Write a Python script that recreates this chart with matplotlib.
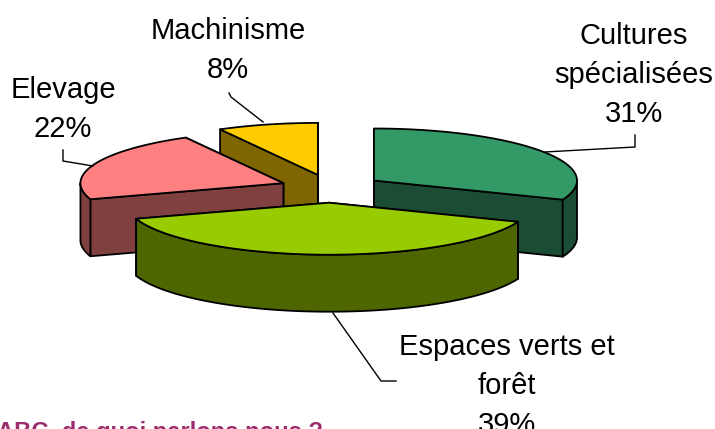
import numpy as np
import matplotlib
matplotlib.use('Agg')
import matplotlib.pyplot as plt

plt.rcParams['font.family'] = ['Liberation Sans', 'DejaVu Sans']

# slices, clockwise from 12 o'clock
labels = ['Cultures\nspécialisées', 'Espaces verts et\nforêt', 'Elevage', 'Machinisme']
values = [31, 39, 22, 8]
explode = [0.256, 0.283, 0.252, 0.26]
top_colors = ['#339966', '#99CC00', '#FF8080', '#FFCC00']
side_colors = ['#1A4D33', '#4D6600', '#804040', '#806600']
label_pos = [(634, 128), (507, 439), (63, 143), (228, 84)]
leaders = [
	[(635, 135), (635, 147), (545, 152)],
	[(333, 313), (381, 381), (396, 381)],
	[(63, 150), (63, 161), (93, 166)],
	[(229, 93), (231, 97), (263, 122)],
]

cx, cy = 331, 188
rx, ry = 203, 52
depth = 57
lw = 1.3

def ell(a, ox, oy):
	return ox + rx * np.sin(a), oy - ry * np.cos(a)

def face(ax, xs, ys, color, z):
	ax.fill(xs, ys, facecolor=color, edgecolor='black', linewidth=lw, joinstyle='round', zorder=z)

fig = plt.figure(figsize=(7.15, 4.29), dpi=100)
ax = fig.add_axes([0, 0, 1, 1])
ax.set_xlim(0, 715)
ax.set_ylim(429, 0)
ax.axis('off')

fracs = np.array(values) / sum(values)
ends = np.cumsum(fracs) * 2 * np.pi
starts = ends - fracs * 2 * np.pi
# back slices first, the big front slice last
order = [3, 2, 0, 1]
z = 1
for i in order:
	a0, a1 = starts[i], ends[i]
	mid = (a0 + a1) / 2
	ox = cx + explode[i] * rx * np.sin(mid)
	oy = cy - explode[i] * ry * np.cos(mid)
	# flat cut faces, the one further back first
	cuts = sorted([a0, a1], key=lambda a: -np.cos(a))
	for a in cuts:
		ex, ey = ell(a, ox, oy)
		face(ax, [ox, ex, ex, ox], [oy, ey, ey + depth, oy + depth], side_colors[i], z)
		z += 1
	# rim, only the part turned to the viewer
	lo, hi = max(a0, np.pi / 2), min(a1, 3 * np.pi / 2)
	if hi > lo:
		t = np.linspace(lo, hi, 80)
		rimx, rimy = ell(t, ox, oy)
		face(ax, np.r_[rimx, rimx[::-1]], np.r_[rimy, rimy[::-1] + depth], side_colors[i], z)
		z += 1
	t = np.linspace(a0, a1, 120)
	topx, topy = ell(t, ox, oy)
	face(ax, np.r_[ox, topx], np.r_[oy, topy], top_colors[i], z)
	z += 1

for pts in leaders:
	ax.plot(*zip(*pts), color='black', linewidth=1.0, zorder=z, solid_joinstyle='miter')

for lab, v, (x, y) in zip(labels, values, label_pos):
	ax.text(x, y, f'{lab}\n{v}%', ha='center', va='bottom', fontsize=21,
		linespacing=1.5, color='black', zorder=z + 1, clip_on=False)

ax.text(-3, 439, 'ABC, de quoi parlons nous ?', ha='left', va='baseline', fontsize=17.1,
	fontweight='bold', color='#9B2D6B', zorder=z + 1)

fig.savefig('out.png', dpi=100)
